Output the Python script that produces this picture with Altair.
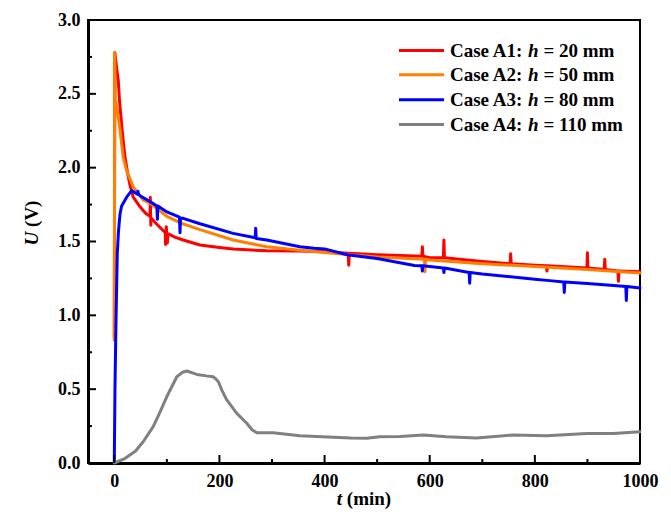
import altair as alt
import pandas as pd

# ---------------- data ----------------
t_a1 = [0, 1, 3, 5.7, 7.6, 10, 15, 20, 25, 30, 36, 49, 60, 68, 68.5, 69.5, 70, 80, 90, 97, 97.5, 99, 101, 102, 104, 115,
        131, 163, 200, 226, 290, 353, 400, 445, 446, 447, 500, 585, 586, 587, 600, 626, 627, 628, 700, 753, 754, 755,
        800, 822, 823, 824, 899, 900, 901, 932, 933, 934, 958, 959, 960, 1000]
u_a1 = [0.85, 2.78, 2.72, 2.64, 2.59, 2.45, 2.25, 2.08, 1.97, 1.88, 1.80, 1.735, 1.69, 1.67, 1.80, 1.61, 1.66, 1.62,
        1.585, 1.56, 1.48, 1.60, 1.49, 1.55, 1.55, 1.53, 1.51, 1.476, 1.46, 1.449, 1.437, 1.435, 1.43, 1.42, 1.34, 1.42,
        1.41, 1.40, 1.465, 1.40, 1.39, 1.39, 1.51, 1.39, 1.365, 1.35, 1.417, 1.35, 1.34, 1.335, 1.30, 1.335, 1.32,
        1.424, 1.32, 1.31, 1.38, 1.31, 1.30, 1.23, 1.30, 1.295]

t_a2 = [0, 0.8, 2, 3, 5, 8, 10.9, 17, 23.5, 36, 55, 68, 100, 130, 163, 226, 290, 353, 400, 500, 590, 591, 592, 600,
        700, 800, 900, 1000]
u_a2 = [0.83, 2.78, 2.42, 2.45, 2.40, 2.33, 2.255, 2.07, 1.98, 1.87, 1.78, 1.76, 1.67, 1.62, 1.58, 1.51, 1.464, 1.44,
        1.425, 1.395, 1.38, 1.295, 1.38, 1.375, 1.35, 1.33, 1.31, 1.287]

t_a3 = [0, 1.3, 3.3, 5.7, 8, 11, 14, 23.5, 33, 44, 45, 46, 49, 68, 81, 82, 83, 100, 124, 125, 126, 131, 163, 226, 268,
        269, 270, 290, 353, 380, 400, 443, 500, 571, 585, 586, 587, 626, 627, 628, 675, 676, 677, 700, 800, 828, 855,
        856, 857, 900, 956, 973, 974, 975, 1000]
u_a3 = [0.0, 0.5, 0.97, 1.42, 1.57, 1.69, 1.74, 1.80, 1.845, 1.82, 1.84, 1.82, 1.81, 1.77, 1.74, 1.65, 1.74, 1.70,
        1.665, 1.56, 1.66, 1.657, 1.62, 1.555, 1.525, 1.59, 1.52, 1.51, 1.465, 1.455, 1.45, 1.41, 1.385, 1.338, 1.335,
        1.30, 1.335, 1.32, 1.29, 1.32, 1.29, 1.217, 1.29, 1.28, 1.245, 1.235, 1.225, 1.155, 1.225, 1.215, 1.20, 1.195,
        1.10, 1.195, 1.185]

t_a4 = [0, 20, 40, 55, 74, 85, 100, 119, 130, 138, 157, 175, 188, 193, 198, 205, 214, 233, 252, 262, 271, 302, 353,
        417, 450, 480, 505, 543, 588, 632, 689, 759, 822, 899, 950, 1000]
u_a4 = [0.0, 0.03, 0.08, 0.144, 0.246, 0.33, 0.45, 0.584, 0.615, 0.623, 0.60, 0.59, 0.584, 0.57, 0.55, 0.49, 0.427,
        0.336, 0.269, 0.225, 0.205, 0.205, 0.185, 0.175, 0.17, 0.168, 0.178, 0.18, 0.19, 0.178, 0.17, 0.19, 0.185,
        0.2, 0.2, 0.212]

series_names = ["Case A1", "Case A2", "Case A3", "Case A4"]
series_h = ["= 20 mm", "= 50 mm", "= 80 mm", "= 110 mm"]
series_colors = ["#FF0000", "#FF8000", "#0000FF", "#808080"]
series_t = [t_a1, t_a2, t_a3, t_a4]
series_u = [u_a1, u_a2, u_a3, u_a4]

x_major = [0, 200, 400, 600, 800, 1000]
x_minor = [100, 300, 500, 700, 900]
y_major = [0.0, 0.5, 1.0, 1.5, 2.0, 2.5, 3.0]
y_minor = [0.25, 0.75, 1.25, 1.75, 2.25, 2.75]

# ---------------- chart ----------------
FONT = "Liberation Serif"
W, H = 552, 443
FS_TICK = 18
FS_LEG = 19
FS_TITLE = 19

x_scale = alt.Scale(domain=[-50, 1000], nice=False, zero=False)
y_scale = alt.Scale(domain=[0, 3], nice=False, zero=False)

x_axis = alt.Axis(values=x_major, ticks=False, grid=False, domain=True, domainColor="black", domainWidth=3,
                  labelFont=FONT, labelFontWeight="bold", labelFontSize=FS_TICK, labelColor="black",
                  labelPadding=9, labelFlush=False, title=None, format="d")
y_axis = alt.Axis(values=y_major, ticks=False, grid=False, domain=True, domainColor="black", domainWidth=3,
                  labelFont=FONT, labelFontWeight="bold", labelFontSize=FS_TICK, labelColor="black",
                  labelPadding=8, labelFlush=False, title=None, format=".1f")

layers = []
for name, ts, us, col in zip(series_names, series_t, series_u, series_colors):
    df = pd.DataFrame({"t": ts, "U": us, "series": name})
    layers.append(
        alt.Chart(df).mark_line(color=col, strokeWidth=3, strokeJoin="round", strokeCap="round").encode(
            x=alt.X("t:Q", scale=x_scale, axis=x_axis),
            y=alt.Y("U:Q", scale=y_scale, axis=y_axis),
            order="t:Q",
        )
    )

# inward tick marks
def xticks(vals, length):
    return alt.Chart(pd.DataFrame({"t": vals})).mark_rule(color="black", strokeWidth=2).encode(
        x=alt.X("t:Q", scale=x_scale, axis=x_axis), y=alt.value(H), y2=alt.value(H - length))

def yticks(vals, length):
    return alt.Chart(pd.DataFrame({"U": vals})).mark_rule(color="black", strokeWidth=2).encode(
        y=alt.Y("U:Q", scale=y_scale, axis=y_axis), x=alt.value(0), x2=alt.value(length))

layers += [xticks(x_major, 8), xticks(x_minor, 4), yticks(y_major, 8), yticks(y_minor, 4)]

dummy = pd.DataFrame({"a": [0]})

# legend (inside, upper right)
leg_y = [30.6, 54.7, 79.8, 104.5]
for py, name, hs, col in zip(leg_y, series_names, series_h, series_colors):
    layers.append(alt.Chart(dummy).mark_rule(color=col, strokeWidth=3).encode(
        x=alt.value(311), x2=alt.value(356), y=alt.value(py)))
    x0 = 362
    xh = x0 + 4110 * FS_LEG / 1000
    x2 = xh + 806 * FS_LEG / 1000
    for txt, xx, style in [(name + ":", x0, "normal"), ("h", xh, "italic"), (hs, x2, "normal")]:
        layers.append(alt.Chart(dummy).mark_text(
            text=txt, font=FONT, fontWeight="bold", fontStyle=style, fontSize=FS_LEG, color="black",
            align="left", baseline="middle").encode(x=alt.value(xx), y=alt.value(py)))

# axis titles with italic symbols
XT_Y = 479
xt0 = 276 - 2861 * FS_TITLE / 1000 / 2
layers.append(alt.Chart(dummy).mark_text(text="t", font=FONT, fontWeight="bold", fontStyle="italic",
                                         fontSize=FS_TITLE, color="black", align="left", baseline="middle")
              .encode(x=alt.value(xt0), y=alt.value(XT_Y)))
layers.append(alt.Chart(dummy).mark_text(text="(min)", font=FONT, fontWeight="bold",
                                         fontSize=FS_TITLE, color="black", align="left", baseline="middle")
              .encode(x=alt.value(xt0 + 528 * FS_TITLE / 1000), y=alt.value(XT_Y)))

yc = 203
yt0 = yc + 2360 * FS_TITLE / 1000 / 2
layers.append(alt.Chart(dummy).mark_text(text="U", font=FONT, fontWeight="bold", fontStyle="italic", angle=270,
                                         fontSize=FS_TITLE, color="black", align="left", baseline="middle")
              .encode(x=alt.value(-56), y=alt.value(yt0)))
layers.append(alt.Chart(dummy).mark_text(text="(V)", font=FONT, fontWeight="bold", angle=270,
                                         fontSize=FS_TITLE, color="black", align="left", baseline="middle")
              .encode(x=alt.value(-56), y=alt.value(yt0 - 972 * FS_TITLE / 1000)))

chart = alt.layer(*layers).properties(
    width=W, height=H,
    autosize=alt.AutoSizeParams(type="none"),
    padding={"left": 88, "top": 20, "right": 31, "bottom": 63},
    background="white",
).configure_view(stroke="black", strokeWidth=2)

chart.save("out.html", embed_options={"renderer": "svg", "actions": False})
